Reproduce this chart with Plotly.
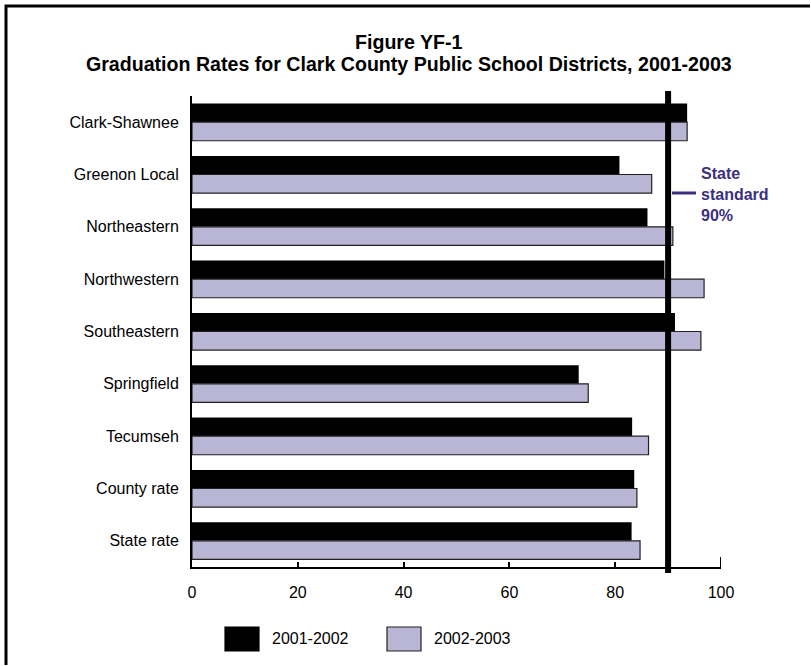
import plotly.graph_objects as go

# ---- data ----
districts = ["Clark-Shawnee", "Greenon Local", "Northeastern", "Northwestern",
             "Southeastern", "Springfield", "Tecumseh", "County rate", "State rate"]
series_names = ["2001-2002", "2002-2003"]
rates_2001_2002 = [93.6, 80.8, 86.1, 89.3, 91.3, 73.1, 83.2, 83.6, 83.1]
rates_2002_2003 = [93.6, 86.9, 90.9, 96.8, 96.2, 74.9, 86.3, 84.1, 84.7]
state_standard = 90
x_ticks = [0, 20, 40, 60, 80, 100]
title_lines = ["Figure YF-1",
               "Graduation Rates for Clark County Public School Districts, 2001-2003"]

FONT = "Liberation Sans, Arial, Helvetica, sans-serif"
PURPLE = "#b9b5d4"
ANN = "#3b2f80"

fig = go.Figure()
fig.add_trace(go.Bar(
    y=districts, x=rates_2001_2002, name=series_names[0], orientation="h",
    marker=dict(color="black", line=dict(color="black", width=0)),
))
fig.add_trace(go.Bar(
    y=districts, x=rates_2002_2003, name=series_names[1], orientation="h",
    marker=dict(color=PURPLE, line=dict(color="#222222", width=1.2)),
))

W, H = 811, 666
L, R, T, B = 192, 90, 96, 99
pw, ph = W - L - R, H - T - B

def px(xp):
    return (xp - L) / pw

def py(yp):
    return (H - B - yp) / ph

shapes = []
# outer frame (left and top edges) drawn as one open path
x_left, x_right = px(6), px(W - 1)
y_bot, y_top = py(H - 1), py(6)
shapes.append(dict(type="path", xref="paper", yref="paper",
                   path=f"M {x_left},{y_bot} L {x_left},{y_top} L {x_right},{y_top}",
                   line=dict(color="black", width=3)))
# state standard line
shapes.append(dict(type="line", xref="x", yref="paper", x0=state_standard, x1=state_standard,
                   y0=py(573), y1=py(91), line=dict(color="black", width=6), layer="above"))
# taller end tick at 100
shapes.append(dict(type="line", xref="x", yref="paper", x0=x_ticks[-1], x1=x_ticks[-1],
                   y0=0, y1=py(H - B - 10), line=dict(color="black", width=2)))
# annotation dash
shapes.append(dict(type="line", xref="paper", yref="paper", x0=px(672), x1=px(696),
                   y0=py(193), y1=py(193), line=dict(color=ANN, width=3)))

# manual legend
swatches = [(225, 259, "black", "black"), (387, 421, PURPLE, "#222222")]
annotations = []
for (x0, x1, fc, lc), name in zip(swatches, series_names):
    shapes.append(dict(type="rect", xref="paper", yref="paper", x0=px(x0), x1=px(x1),
                       y0=py(651), y1=py(627), fillcolor=fc, line=dict(color=lc, width=1.2)))
    annotations.append(dict(xref="paper", yref="paper", x=px(x1 + 11), y=py(638),
                            xanchor="left", yanchor="middle", showarrow=False, text=name,
                            font=dict(family=FONT, size=16, color="black")))

annotations.append(dict(xref="paper", yref="paper", x=px(699), y=py(195),
                        xanchor="left", yanchor="middle", align="left", showarrow=False,
                        text="<b>State<br>standard<br>90%</b>",
                        font=dict(family=FONT, size=16, color=ANN)))

# title lines
for line, ycen in zip(title_lines, [42, 64]):
    annotations.append(dict(xref="paper", yref="paper", x=px(409), y=py(ycen),
                            xanchor="center", yanchor="middle", showarrow=False,
                            text="<b>" + line + "</b>",
                            font=dict(family=FONT, size=19.6, color="black")))

fig.update_layout(
    width=W, height=H,
    margin=dict(l=L, r=R, t=T, b=B, autoexpand=False),
    paper_bgcolor="white", plot_bgcolor="white",
    barmode="group", bargap=0.29, bargroupgap=0,
    showlegend=False,
    font=dict(family=FONT, size=16, color="black"),
    xaxis=dict(range=[0, 100], tickvals=x_ticks, ticks="inside", ticklen=5, tickwidth=2,
               tickcolor="black", showline=True, linecolor="black", linewidth=2,
               showgrid=False, zeroline=False, ticklabelstandoff=10,
               tickfont=dict(family=FONT, size=16, color="black")),
    yaxis=dict(categoryorder="array", categoryarray=districts, range=[len(districts) - 0.5, -0.5],
               ticks="", showline=True, linecolor="black", linewidth=2, showgrid=False,
               zeroline=False, ticklabelstandoff=8,
               tickfont=dict(family=FONT, size=16, color="black")),
    shapes=shapes, annotations=annotations,
)

fig.write_html("out.html",
               config={"displayModeBar": False, "staticPlot": True},
               post_script=("document.documentElement.style.cssText='margin:0;padding:0;overflow:hidden;background:white;';"
                            "document.body.style.cssText='margin:0;padding:0;overflow:hidden;background:white;';"
                            "var gd=document.getElementById('{plot_id}');"
                            "gd.style.position='fixed';gd.style.left='0px';gd.style.top='0px';"))
